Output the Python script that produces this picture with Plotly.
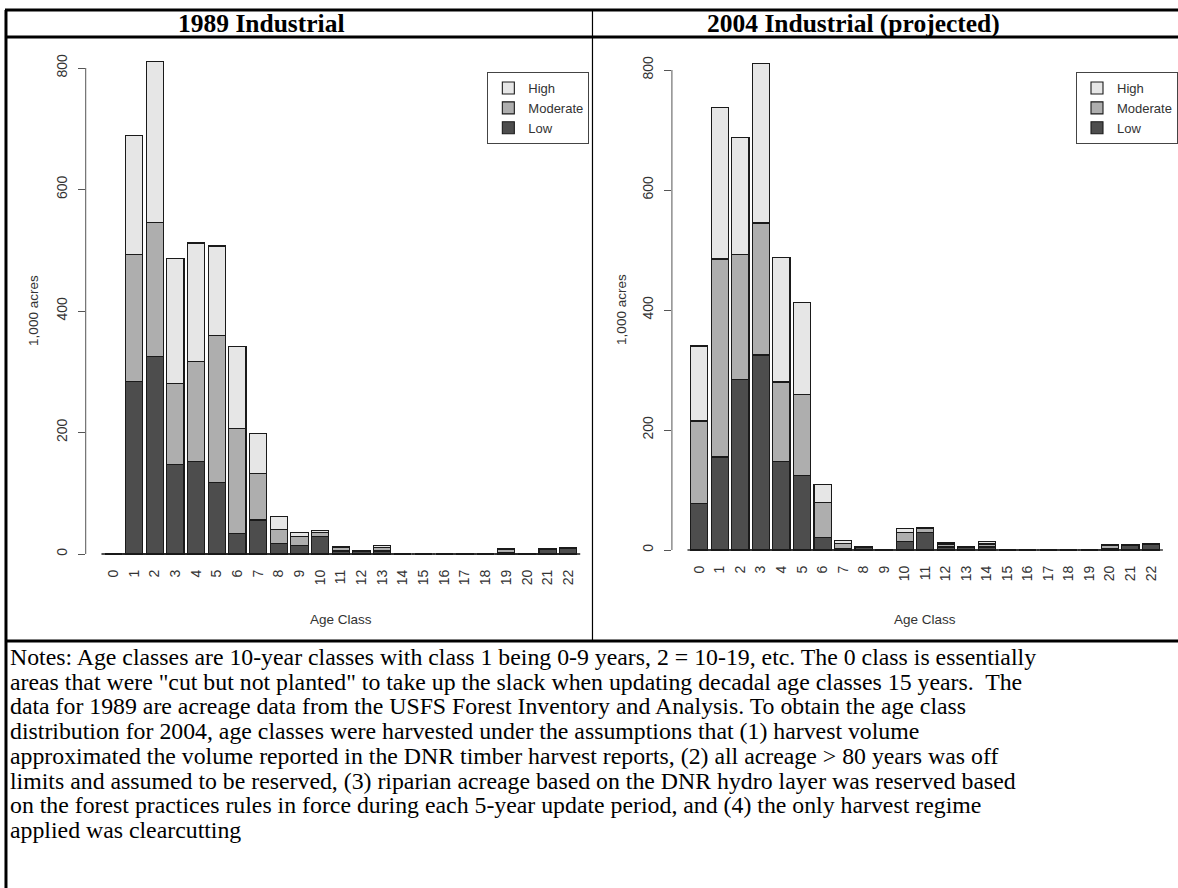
import plotly.graph_objects as go

# ---------------- data ----------------
age_classes = list(range(23))
tick_labels = [str(a) for a in age_classes]
y_ticks = [0, 200, 400, 600, 800]
y_tick_labels = ["0", "200", "400", "600", "800"]
series_names = ["Low", "Moderate", "High"]

low_1989 = [0, 284, 325, 148, 153, 118, 34, 56, 18, 14, 29, 5, 5, 5, 0, 0, 0, 0, 0, 2, 0, 8, 9]
mod_1989 = [0, 209, 220, 132, 164, 241, 173, 76, 22, 15, 7, 5, 0, 5, 0, 0, 0, 0, 0, 5, 0, 1, 1]
high_1989 = [0, 196, 266, 207, 195, 148, 135, 66, 21, 7, 2, 3, 0, 4, 0, 0, 0, 0, 0, 2, 0, 0, 0]

low_2004 = [78, 155, 284, 325, 148, 124, 21, 3, 5, 1.5, 14, 29, 5, 5, 5, 0, 0, 0, 0, 0, 2, 8, 9]
mod_2004 = [137, 330, 209, 220, 132, 135, 58, 7.5, 0, 0, 15, 7, 5, 0, 5, 0, 0, 0, 0, 0, 5, 1, 1]
high_2004 = [125, 253, 195, 266, 207, 153, 30, 5, 0, 0, 7, 2, 3, 0, 4, 0, 0, 0, 0, 0, 2, 0, 0]

titles = ["1989 Industrial", "2004 Industrial (projected)"]
x_title = "Age Class"
y_title = "1,000 acres"
notes_lines = [
    "Notes: Age classes are 10-year classes with class 1 being 0-9 years, 2 = 10-19, etc. The 0 class is essentially",
    "areas that were \"cut but not planted\" to take up the slack when updating decadal age classes 15 years.\u00a0 The",
    "data for 1989 are acreage data from the USFS Forest Inventory and Analysis. To obtain the age class",
    "distribution for 2004, age classes were harvested under the assumptions that (1) harvest volume",
    "approximated the volume reported in the DNR timber harvest reports, (2) all acreage &gt; 80 years was off",
    "limits and assumed to be reserved, (3) riparian acreage based on the DNR hydro layer was reserved based",
    "on the forest practices rules in force during each 5-year update period, and (4) the only harvest regime",
    "applied was clearcutting",
]

# ---------------- layout helpers ----------------
W, H = 1178, 888


def fx(px):
    return px / W


def fy(py):
    return 1 - py / H


COLORS = {"Low": "#4D4D4D", "Moderate": "#AEAEAE", "High": "#E6E6E6"}
EDGE = "#1a1a1a"
SANS = "Liberation Sans"
SERIF = "Liberation Serif"
TXT = "#333333"

panels = [
    dict(xa="x", ya="y", leg="legend", series=[low_1989, mod_1989, high_1989]),
    dict(xa="x2", ya="y2", leg="legend2", series=[low_2004, mod_2004, high_2004]),
]

fig = go.Figure()
for p in panels:
    for name, vals in zip(series_names, p["series"]):
        fig.add_trace(go.Bar(
            x=age_classes, y=vals, name=name, width=0.833,
            marker=dict(color=COLORS[name], line=dict(color=EDGE, width=1.1)),
            xaxis=p["xa"], yaxis=p["ya"], legend=p["leg"],
        ))
    # bottom edge of every bar (R draws it even for zero-height bars)
    fig.add_trace(go.Scatter(
        x=age_classes, y=[0] * len(age_classes), mode="markers",
        marker=dict(symbol="line-ew", size=17, line=dict(color=EDGE, width=1.3)),
        showlegend=False, hoverinfo="skip", xaxis=p["xa"], yaxis=p["ya"],
    ))

# panel geometry (pixels)
L_zero, L_scale = 554, 0.6075
R_zero, R_scale = 550, 0.600
L_top, L_bot = 41.6, 562
R_top, R_bot = 44.0, 558

common_x = dict(
    tickmode="array", tickvals=age_classes, ticktext=tick_labels, tickangle=-90,
    ticks="", showline=False, showgrid=False, zeroline=False,
    tickfont=dict(family=SANS, size=14, color=TXT), ticklabelstandoff=4,
)
common_y = dict(
    tickmode="array", tickvals=y_ticks, ticktext=y_tick_labels, tickangle=-90,
    ticks="outside", ticklen=7, tickwidth=1, tickcolor="#555555",
    showline=False, showgrid=False, zeroline=False,
    tickfont=dict(family=SANS, size=14, color=TXT), ticklabelstandoff=5,
)

legend_common = dict(y=fy(72), xanchor="left", yanchor="top", traceorder="reversed",
                     bgcolor="white", bordercolor="#444444", borderwidth=1,
                     font=dict(family=SANS, size=13, color=TXT), tracegroupgap=0)

fig.update_layout(
    width=W, height=H,
    margin=dict(l=0, r=0, t=0, b=0),
    paper_bgcolor="white", plot_bgcolor="rgba(0,0,0,0)",
    barmode="stack",
    xaxis=dict(domain=[fx(86), fx(598)], range=[-1.337, 23.337], anchor="y", **common_x),
    yaxis=dict(domain=[fy(L_bot), fy(L_top)],
               range=[-(L_bot - L_zero) / L_scale, (L_zero - L_top) / L_scale],
               anchor="x", **common_y),
    xaxis2=dict(domain=[fx(674.2), 1.0], range=[-1.337, 23.12], anchor="y2", **common_x),
    yaxis2=dict(domain=[fy(R_bot), fy(R_top)],
                range=[-(R_bot - R_zero) / R_scale, (R_zero - R_top) / R_scale],
                anchor="x2", **common_y),
    legend=dict(x=fx(489), **legend_common),
    legend2=dict(x=fx(1080), **legend_common),
    showlegend=True,
)

shapes = []
# R-style y axis lines (from first to last tick)
for xa, ya in [("x", "y"), ("x2", "y2")]:
    shapes.append(dict(type="line", xref=f"{xa} domain", yref=ya, x0=0, x1=0,
                       y0=y_ticks[0], y1=y_ticks[-1], line=dict(color="#555555", width=1)))
# table frame
frame = [
    (5, 10, W + 10, 10, 3), (5, 37, W + 10, 37, 3), (5, 641, W + 10, 641, 3),
    (6, 10, 6, H + 10, 3), (594.5, 10, 594.5, 641, 1.2),
]
for x0, y0, x1, y1, w in frame:
    shapes.append(dict(type="line", xref="paper", yref="paper",
                       x0=fx(x0), x1=fx(x1), y0=fy(y0), y1=fy(y1),
                       line=dict(color="black", width=w)))
fig.update_layout(shapes=shapes)

ann = []
# panel titles
for t, cx in zip(titles, [262, 856]):
    ann.append(dict(text=f"<b>{t}</b>", x=fx(cx), y=fy(23.5), xref="paper", yref="paper",
                    showarrow=False, xanchor="center", yanchor="middle",
                    font=dict(family=SERIF, size=25.5, color="black")))
# axis titles
for cx in [342, 928]:
    ann.append(dict(text=x_title, x=fx(cx), y=fy(619), xref="paper", yref="paper",
                    showarrow=False, xanchor="center", yanchor="middle",
                    font=dict(family=SANS, size=13.5, color=TXT)))
for cx, cy in [(33, 310), (623, 309)]:
    ann.append(dict(text=y_title, x=fx(cx), y=fy(cy), xref="paper", yref="paper",
                    showarrow=False, xanchor="center", yanchor="middle", textangle=-90,
                    font=dict(family=SANS, size=13.5, color=TXT)))
# notes
for i, line in enumerate(notes_lines):
    ann.append(dict(text=line, x=fx(8), y=fy(657 + i * 24.7), xref="paper", yref="paper",
                    showarrow=False, xanchor="left", yanchor="middle",
                    font=dict(family=SERIF, size=23.8, color="black")))
fig.update_layout(annotations=ann)

fig.write_html("out.html")
